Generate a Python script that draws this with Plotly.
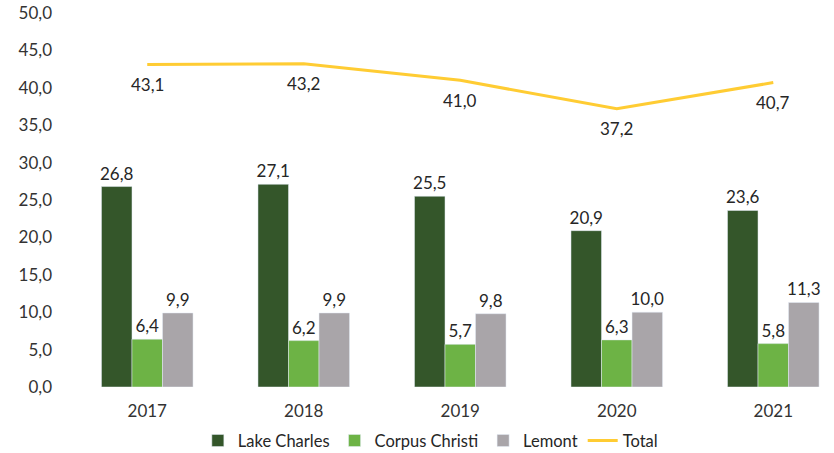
import plotly.graph_objects as go

years = ["2017", "2018", "2019", "2020", "2021"]
lake_charles = [26.8, 27.1, 25.5, 20.9, 23.6]
corpus_christi = [6.4, 6.2, 5.7, 6.3, 5.8]
lemont = [9.9, 9.9, 9.8, 10.0, 11.3]
total = [43.1, 43.2, 41.0, 37.2, 40.7]

FONT = "Lato, Carlito, sans-serif"
label_font = dict(family=FONT, size=17, color="#262626")

fig = go.Figure()
for name, vals, col in [("Lake Charles", lake_charles, "#34562A"),
                        ("Corpus Christi", corpus_christi, "#6DB345"),
                        ("Lemont", lemont, "#A9A5A9")]:
    fig.add_trace(go.Bar(name=name, x=years, y=vals, marker_color=col,
                         texttemplate="%{y:.1f}", textposition="outside", textfont=label_font,
                         constraintext="none", cliponaxis=False))
fig.add_trace(go.Scatter(name="Total", x=years, y=total, mode="lines",
                         line=dict(color="#FFCC33", width=3), cliponaxis=False))

for i, v in enumerate(total):
    fig.add_annotation(x=i, y=v, xref="x", yref="y", text=f"{v:.1f}".replace(".", ","),
                       showarrow=False, yshift=-20, font=label_font)

fig.update_layout(
    width=834, height=453,
    margin=dict(l=69, r=0, t=13, b=66),
    plot_bgcolor="white", paper_bgcolor="white",
    separators=", ",
    barmode="group", bargap=0.415, bargroupgap=0,
    font=dict(family=FONT, size=17, color="#333333"),
    showlegend=True,
    legend=dict(orientation="h", x=0.516, xanchor="center", xref="container",
                y=0.027, yanchor="middle", yref="container",
                font=dict(family=FONT, size=16.5, color="#262626"),
                itemwidth=30, traceorder="normal"),
)
fig.update_xaxes(type="category", range=[-0.5, 4.388], showgrid=False, showline=False, ticks="",
                 automargin=False, ticklabelstandoff=12,
                 tickfont=dict(family=FONT, size=17, color="#333333"))
fig.update_yaxes(range=[0, 50], dtick=5, tickformat=".1f", showgrid=False, zeroline=False,
                 showline=False, ticks="", ticklabelstandoff=16, automargin=False,
                 ticklabeloverflow="allow",
                 tickfont=dict(family=FONT, size=17, color="#333333"))

fig.write_html("out.html", config={"displayModeBar": False},
               post_script="document.body.style.margin='0';document.body.style.overflow='hidden';")
